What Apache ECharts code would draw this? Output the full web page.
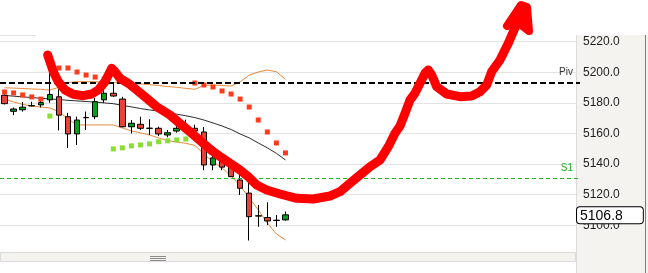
<!DOCTYPE html>
<html><head><meta charset="utf-8">
<script src="https://cdn.jsdelivr.net/npm/echarts@6/dist/echarts.min.js"></script>
<style>html,body{margin:0;padding:0;background:#fff}#c{width:648px;height:273px}</style>
</head><body><div id="c"></div>
<script>
// bar slots on the time axis (32 bars drawn, rest is empty future space)
const categories = Array.from({length: 64}, (_, i) => String(i + 1));

const opens  = [5185, 5174.5, 5175.5, 5178, 5178.7, 5182, 5184, 5171, 5159.7, 5170.5, 5171, 5182, 5186.3, 5182.5, 5164.4, 5166, 5163.5, 5163.4, 5159, 5161.6, 5162, 5163.4, 5161, 5139.4, 5143, 5138.3, 5129.6, 5121, 5106.2, 5105, 5103.1, 5103.5];
const closes = [5179.5, 5176, 5177.2, 5178.3, 5180.2, 5185.5, 5172, 5159.7, 5168.8, 5170.3, 5180.8, 5186.3, 5184.5, 5164.4, 5166.7, 5163.4, 5163.3, 5159.7, 5160.5, 5163.4, 5164, 5161.6, 5139.4, 5144, 5138, 5131.8, 5124.2, 5105.6, 5106, 5102.8, 5103.3, 5106.8];
const lows   = [5179, 5172, 5174.3, 5177.8, 5177, 5180, 5162, 5150.5, 5152.5, 5162.3, 5169.4, 5180, 5184, 5164, 5160, 5162.3, 5159, 5158.3, 5157.5, 5160.5, 5161.5, 5161, 5136, 5136, 5136, 5131.5, 5119.8, 5090, 5099, 5100.2, 5099, 5103];
const highs  = [5186, 5177, 5180.6, 5180.8, 5183, 5201, 5189, 5173.5, 5171, 5174.3, 5183.2, 5190, 5193, 5184, 5168.8, 5171, 5169.3, 5164.5, 5162.3, 5165.7, 5169, 5165.7, 5164.2, 5146, 5146, 5143.2, 5133, 5128, 5113.3, 5115, 5106.7, 5109];

const maLine    = [5184.9, 5184.4, 5183.9, 5183.5, 5183.0, 5182.6, 5182.2, 5181.7, 5181.3, 5180.9, 5180.5, 5180.0, 5179.5, 5178.4, 5177.4, 5176.3, 5175.4, 5174.6, 5173.6, 5172.6, 5171.6, 5170.4, 5168.8, 5166.9, 5164.9, 5162.6, 5159.7, 5157.1, 5153.8, 5150.6, 5147.0, 5142.7];
const upperBand = [5189.9, 5189.7, 5189.4, 5189.1, 5188.9, 5188.4, 5190.2, 5193.3, 5193.9, 5193.9, 5193.8, 5193.7, 5193.3, 5193.0, 5192.7, 5192.4, 5191.9, 5191.4, 5190.7, 5190.2, 5189.5, 5188.9, 5191.4, 5191.7, 5191.4, 5191.0, 5193.7, 5198.2, 5200.2, 5201.5, 5200.4, 5195.4];
const lowerBand = [5182.5, 5180.6, 5179.0, 5178.0, 5177.3, 5176.7, 5174.2, 5169.5, 5165.6, 5165.6, 5165.6, 5165.6, 5165.6, 5163.6, 5161.7, 5160.4, 5159.0, 5157.1, 5155.4, 5154.4, 5153.6, 5152.2, 5146.6, 5141.4, 5137.5, 5132.2, 5125.7, 5117.9, 5110.0, 5101.5, 5094.3, 5090.4];

const sarAbove = [5187.1, 5186.5, 5185.2, 5183.9, 5182.5, null, 5202.8, 5202.8, 5200.2, 5198.2, 5196.9, 5195.6, null, null, null, null, null, null, null, null, null, 5193.0, 5191.7, 5190.4, 5187.8, 5185.8, 5182.5, 5177.3, 5168.8, 5161.0, 5153.8, 5147.3];
const sarBelow = [null, null, null, null, null, 5171.4, null, null, null, null, null, null, 5149.9, 5150.6, 5151.9, 5152.5, 5153.2, 5154.6, 5155.2, 5155.8, 5156.4, null, null, null, null, null, null, null, null, null, null, null];

const pivotLevel = 5193.5;
const s1Level = 5131;
const lastPrice = 5106.8;
const yMin = 5082.5, yMax = 5224.4;

// freehand annotation drawn over the chart (screen-space canvas coordinates)
const annotationPath = [[47.7,55],[50,61.7],[53.3,71.7],[58.3,81.7],[65,90],[73.3,94.3],[83.3,95.7],[91.7,94],[98.3,90],[105,81.7],[110,71.7],[111.7,68.3],[115,71.7],[120,78.3],[128.3,83.3],[136.7,90],[146.7,98.3],[156.7,106.7],[170,115],[181.7,125],[191.7,133.3],[203.3,143.3],[213.3,151.7],[220,156.5],[230,163.3],[240,170],[248.3,176.7],[256.7,185],[266.7,190],[280,194],[296.7,198.3],[313.3,199],[330,196],[340,191.7],[350,183.3],[360,175],[370,166.7],[380,160],[388.3,146.7],[395,133.3],[400,126],[405,113.3],[410,100],[415,93.3],[420,83.3],[425,73.3],[428.3,70],[431.7,75],[436.7,86.7],[446.7,94],[460,96.7],[471.7,96],[480,91.7],[486.7,85],[491.7,71.7],[500,60],[508.3,43.3],[513.3,31.7],[518.3,20],[521.7,10]];
const arrowHead = [[507,26],[521,5],[527,7],[529,31],[520,24],[513,22],[519,12],[525,18]];

const fmt = v => (Math.abs(v / 20 - Math.round(v / 20)) < 1e-6 ? v.toFixed(1) : '');
const FONT = 'Liberation Sans, Arial, sans-serif';

const chart = echarts.init(document.getElementById('c'), null, {renderer: 'canvas'});
chart.setOption({
  animation: false,
  backgroundColor: '#ffffff',
  grid: [
    {left: 0, top: 35, width: 580, height: 217},
    {left: 0, top: 0, width: 648, height: 273}
  ],
  xAxis: [
    {type: 'category', data: categories, gridIndex: 0, boundaryGap: true, show: false},
    {type: 'value', gridIndex: 1, min: 0, max: 648, show: false}
  ],
  yAxis: [
    {type: 'value', gridIndex: 0, min: yMin, max: yMax, splitNumber: 6, position: 'right', z: 0,
     axisLine: {show: false}, axisTick: {show: false}, axisLabel: {show: false},
     splitLine: {show: true, showMaxLine: false, lineStyle: {color: '#e3e3e3', width: 1}}},
    {type: 'value', gridIndex: 0, min: yMin, max: yMax, splitNumber: 6, position: 'right', offset: -4, z: 10,
     axisLine: {show: false}, axisTick: {show: false}, splitLine: {show: false},
     axisLabel: {interval: 0, margin: 7, fontSize: 12, color: '#1e1e1e', fontFamily: FONT, formatter: fmt, showMinLabel: false, showMaxLabel: false},
     axisPointer: {show: true, value: lastPrice, status: 'show', triggerTooltip: false, snap: false,
       type: 'line', lineStyle: {opacity: 0},
       label: {show: true, formatter: p => Number(p.value).toFixed(1), margin: 1,
         backgroundColor: '#ffffff', borderColor: '#000', borderWidth: 1, color: '#000',
         fontSize: 14, fontFamily: FONT, lineHeight: 15, padding: [1, 20, 0, 3], shadowBlur: 0}}},
    {type: 'value', gridIndex: 1, min: 0, max: 273, inverse: true, show: false}
  ],
  graphic: [
    {type: 'rect', z: 5, silent: true, shape: {x: 576, y: 35, width: 72, height: 238}, style: {fill: '#f4f3ef'}},
    {type: 'line', z: 5, silent: true, shape: {x1: 576.5, y1: 35, x2: 576.5, y2: 273}, style: {stroke: '#dadada', lineWidth: 1}},
    {type: 'line', z: 5, silent: true, shape: {x1: 645.5, y1: 35, x2: 645.5, y2: 273}, style: {stroke: '#7d7d7d', lineWidth: 1}},
    {type: 'rect', z: 5, silent: true, shape: {x: 0.5, y: 252.5, width: 575, height: 9}, style: {fill: '#f4f3ef', stroke: '#dcdcdc', lineWidth: 1}},
    {type: 'line', z: 6, silent: true, shape: {x1: 150, y1: 256.5, x2: 166, y2: 256.5}, style: {stroke: '#8c8c8c', lineWidth: 1}},
    {type: 'line', z: 6, silent: true, shape: {x1: 150, y1: 258.5, x2: 166, y2: 258.5}, style: {stroke: '#8c8c8c', lineWidth: 1}},
    {type: 'line', z: 6, silent: true, shape: {x1: 150, y1: 260.5, x2: 166, y2: 260.5}, style: {stroke: '#8c8c8c', lineWidth: 1}},
    {type: 'line', z: 5, silent: true, shape: {x1: 0, y1: 35.5, x2: 36, y2: 35.5}, style: {stroke: '#e3e3e3', lineWidth: 1}}
  ],
  series: [
    {type: 'line', name: 'MA', xAxisIndex: 0, yAxisIndex: 0, data: maLine, symbol: 'none', z: 2,
     lineStyle: {color: '#2b2b2b', width: 1}},
    {type: 'line', name: 'Upper', xAxisIndex: 0, yAxisIndex: 0, data: upperBand, symbol: 'none', z: 2,
     lineStyle: {color: '#e8893a', width: 1}},
    {type: 'line', name: 'Lower', xAxisIndex: 0, yAxisIndex: 0, data: lowerBand, symbol: 'none', z: 2,
     lineStyle: {color: '#e8893a', width: 1}},
    {type: 'candlestick', xAxisIndex: 0, yAxisIndex: 0, barWidth: 6, z: 3,
     data: opens.map((o, i) => [o, closes[i], lows[i], highs[i]]),
     itemStyle: {color: '#00a01a', color0: '#e8433a', borderColor: '#000', borderColor0: '#000', borderColorDoji: '#000', borderWidth: 1, opacity: 1},
     markLine: {symbol: ['none', 'none'], silent: true, animation: false,
       data: [
         {yAxis: pivotLevel, lineStyle: {color: '#000', width: 2, type: [6, 3]},
          label: {show: true, formatter: 'Piv', position: 'insideEndTop', color: '#333', fontSize: 10, fontFamily: FONT, distance: [7, 5]}},
         {yAxis: s1Level, lineStyle: {color: '#1fb81f', width: 1, type: [4, 3]},
          label: {show: true, formatter: 'S1', position: 'insideEndTop', color: '#1fae1f', fontSize: 10, fontFamily: FONT, distance: [7, 5]}}
       ]}},
    {type: 'scatter', xAxisIndex: 0, yAxisIndex: 0, data: sarAbove, symbol: 'rect', symbolSize: 5, z: 4,
     itemStyle: {color: '#ff3b1c', opacity: 1}},
    {type: 'scatter', xAxisIndex: 0, yAxisIndex: 0, data: sarBelow, symbol: 'rect', symbolSize: 5, z: 4,
     itemStyle: {color: '#8ade33', opacity: 1}},
    {type: 'line', xAxisIndex: 1, yAxisIndex: 2, data: annotationPath, symbol: 'none', z: 20, silent: true,
     lineStyle: {color: '#ff0000', width: 9, cap: 'round', join: 'round'}},
    {type: 'line', xAxisIndex: 1, yAxisIndex: 2, data: arrowHead, symbol: 'none', z: 20, silent: true,
     lineStyle: {color: '#ff0000', width: 8, cap: 'round', join: 'round'}}
  ]
});
</script></body></html>
